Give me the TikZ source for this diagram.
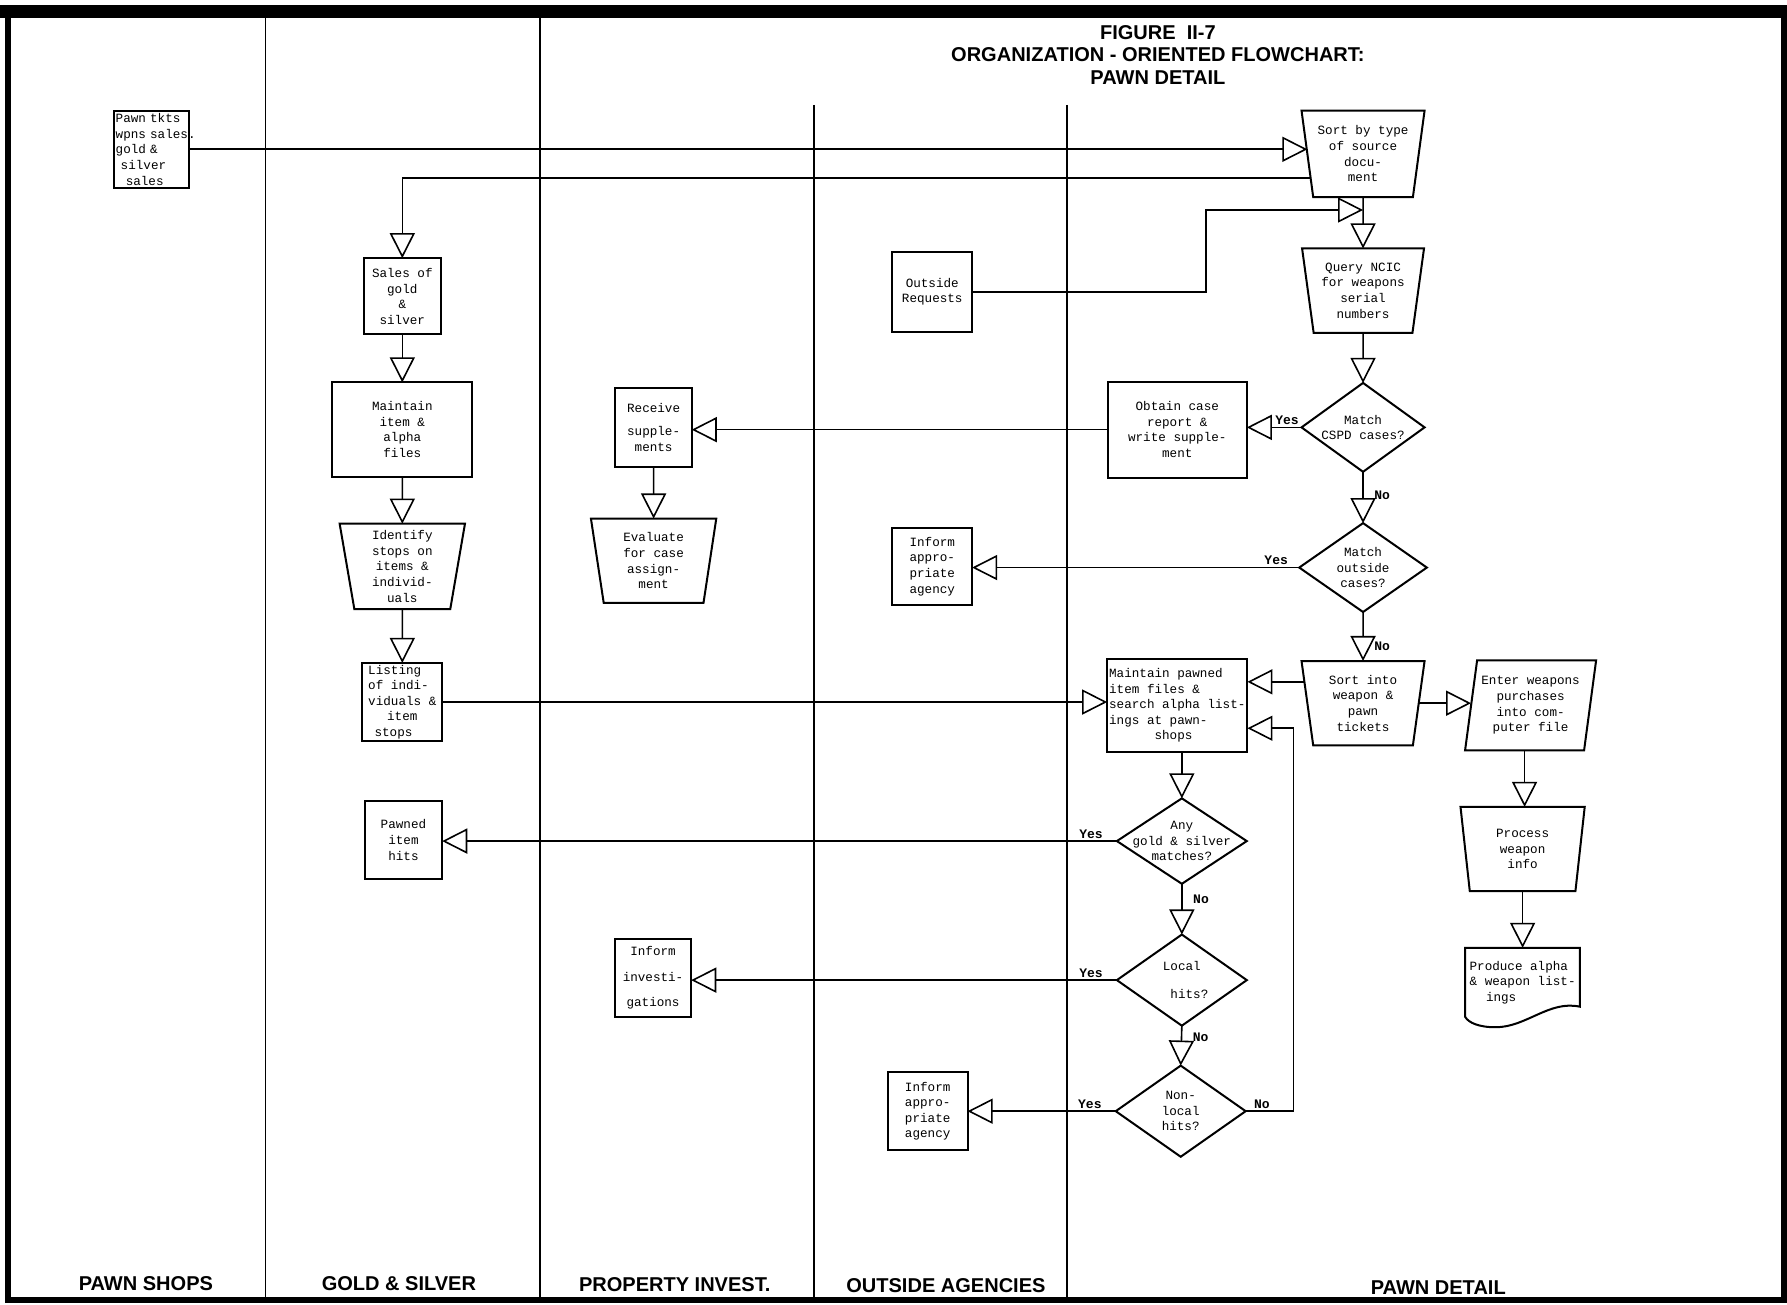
\documentclass[tikz,border=0pt]{standalone}
\usepackage{fontspec}
\usepackage{tikz}
\usetikzlibrary{arrows.meta,positioning,shapes.geometric,calc}
\newfontfamily\chartmono{Liberation Mono}
\newfontfamily\chartsans{Liberation Sans}

\begin{document}
\begin{tikzpicture}[
  x=0.02cm,y=-0.02cm,
  txt/.style={font=\chartmono\fontsize{6.3}{7.8}\selectfont,align=center},
  box/.style={txt,draw,line width=1pt,inner sep=1pt,outer sep=0pt},
  trap/.style={box,trapezium,trapezium left angle=#1,trapezium right angle=#1,trapezium stretches body},
  trap/.default=101,
  para/.style={box,trapezium,trapezium left angle=79,trapezium right angle=101,trapezium stretches body},
  dec/.style={draw,line width=1pt,diamond,inner sep=0pt,outer sep=0pt},
  yn/.style={font=\chartmono\bfseries\fontsize{6.5}{8}\selectfont,inner sep=1pt},
  arr/.style={-{Triangle[open,length=4.4mm,width=4.4mm]},line width=0.8pt},
  lane/.style={font=\chartsans\bfseries\fontsize{10}{11.2}\selectfont},
  laneline/.style={line width=0.8pt}
]
\useasboundingbox (0,0) rectangle (1568,1145);
\fill (0,4) rectangle (1568,16);
\draw[line width=3pt] (7,10) rectangle (1565,1141);
\foreach \lx/\ly in {233/10,474/10,714/92,936/92}
  \draw[laneline] (\lx,\ly) -- (\lx,1140);

\node[lane,align=center] (title) at (1016,48) {FIGURE~~II-7\\ORGANIZATION - ORIENTED FLOWCHART:\\PAWN DETAIL};
\node[lane] (labshops) at (128,1126) {PAWN SHOPS};
\node[lane] (labgold) at (350,1126) {GOLD \& SILVER};
\node[lane] (labprop) at (592,1127) {PROPERTY INVEST.};
\node[lane] (labout) at (830,1128) {OUTSIDE AGENCIES};
\node[lane] (labpawn) at (1262,1130) {PAWN DETAIL};

\node[box,text width=1.26cm,minimum height=1.36cm,align=left] (pawntkts) at (133,131)
  {Pawn tkts\\\mbox{wpns sales.}\\gold \&\\\hspace*{0.4em}silver\\\hspace*{0.8em}sales};

\node[box,minimum width=1.36cm,minimum height=1.34cm] (sales) at (353,260) {Sales of\\gold\\\&\\silver};
\node[box,minimum width=2.46cm,minimum height=1.66cm] (maintain) at (353,377) {Maintain\\item \&\\alpha\\files};
\node[trap,minimum width=2.2cm,minimum height=1.5cm] (identify) at (353,497) {Identify\\stops on\\items \&\\individ-\\uals};
\node[box,minimum width=1.4cm,minimum height=1.36cm,align=left] (listing) at (353,616)
  {Listing\\of indi-\\viduals \&\\\hspace*{1.5em}item\\\hspace*{0.5em}stops};
\node[box,minimum width=1.36cm,minimum height=1.36cm] (pawned) at (354,737) {Pawned\\item\\hits};

\node[box,minimum width=1.34cm,minimum height=1.38cm] (receive) at (573.5,375) {Receive\\[4pt]supple-\\ments};
\node[trap=102,minimum width=2.2cm,minimum height=1.48cm] (evaluate) at (573.5,492) {Evaluate\\for case\\assign-\\ment};
\node[box,minimum width=1.34cm,minimum height=1.38cm] (informinv) at (573,858) {Inform\\[5pt]investi-\\[5pt]gations};

\node[box,minimum width=1.4cm,minimum height=1.4cm] (outside) at (818,256) {Outside\\Requests};
\node[box,minimum width=1.4cm,minimum height=1.36cm] (informapp) at (818,497) {Inform\\appro-\\priate\\agency};
\node[box,minimum width=1.4cm,minimum height=1.38cm] (informnl) at (814,975) {Inform\\appro-\\priate\\agency};

\node[trap,minimum width=2.16cm,minimum height=1.52cm] (sortsrc) at (1196,135) {Sort by type\\of source\\docu-\\ment};
\node[trap,minimum width=2.14cm,minimum height=1.48cm] (query) at (1196,255) {Query NCIC\\for weapons\\serial\\numbers};
\node[dec,minimum width=2.16cm,minimum height=1.56cm,label={[txt]center:{Match\\CSPD cases?}}] (match1) at (1196,375) {};
\node[box,minimum width=2.44cm,minimum height=1.68cm] (obtain) at (1033,377) {Obtain case\\report \&\\write supple-\\ment};
\node[dec,minimum width=2.24cm,minimum height=1.56cm,label={[txt]center:{Match\\outside\\cases?}}] (match2) at (1196,498) {};
\node[trap,minimum width=2.16cm,minimum height=1.48cm] (sortwp) at (1196,617) {Sort into\\weapon \&\\pawn\\tickets};
\node[box,minimum width=2.46cm,minimum height=1.64cm,align=left] (maintainpawn) at (1033,619)
  {Maintain pawned\\item files \&\\search alpha list-\\ings at pawn-\\\hspace*{3.6em}shops};
\node[para,minimum width=2.3cm,minimum height=1.58cm] (enter) at (1343,619) {Enter weapons\\purchases\\into com-\\puter file};
\node[trap=102,minimum width=2.18cm,minimum height=1.48cm] (process) at (1336,745) {Process\\weapon\\info};
\node[txt,inner sep=1pt,minimum width=2cm,minimum height=1.2cm,align=left] (produce) at (1336,862)
  {Produce alpha\\\& weapon list-\\\hspace*{1.3em}ings};
\draw[line width=1pt] (produce.north west) -- (produce.north east) -- ($(produce.south east)+(0,-9)$)
  .. controls +(-27,-6) and +(27,0) .. ++(-74,18) .. controls +(-15,0) and +(3,5) .. (produce.south west) -- cycle;
\node[dec,minimum width=2.28cm,minimum height=1.5cm,label={[txt]center:{Any\\gold \& silver\\matches?}}] (anygold) at (1037,738) {};
\node[dec,minimum width=2.28cm,minimum height=1.6cm,label={[txt]center:{Local\\[6pt]\hspace*{1.2em}hits?}}] (local) at (1037,860) {};
\node[dec,minimum width=2.28cm,minimum height=1.6cm,label={[txt]center:{Non-\\local\\hits?}}] (nonlocal) at (1036,975) {};

\coordinate (back) at ($(sortsrc.bottom left corner)!0.22!(sortsrc.top left corner)$);
\coordinate (join) at ($(sortsrc.south)!0.25!(query.north)$);
\draw[arr] (pawntkts.east) -- (pawntkts.east -| sortsrc.west);
\draw[arr] (back) -| (sales.north);
\draw[arr] (sortsrc.south) -- (query.north);
\draw[arr] (outside.east) -- ++(205,0) |- (join);
\draw[arr] (query.south) -- (match1.north);
\draw[arr] (match1.west) -- node[yn,pos=0,anchor=south east]{Yes} (match1.west -| obtain.east);
\draw[arr] (obtain.west) -- (obtain.west -| receive.east);
\draw[arr] (receive.south) -- (evaluate.north);
\draw[arr] (match1.south) -- node[yn,pos=0.45,anchor=west,xshift=0.15cm]{No} (match2.north);
\draw[arr] (match2.west) -- node[yn,pos=0,anchor=south east,xshift=-0.15cm]{Yes} (match2.west -| informapp.east);
\draw[arr] (match2.south) -- node[yn,pos=0.7,anchor=west,xshift=0.15cm]{No} (sortwp.north);
\draw[arr] (sortwp.160) -- (sortwp.160 -| maintainpawn.east);
\draw[arr] (sortwp.east) -- (sortwp.east -| enter.west);
\draw[arr] (listing.east) -- (listing.east -| maintainpawn.west);
\draw[arr] (maintainpawn.south -| anygold.north) -- (anygold.north);
\draw[arr] (anygold.west) -- node[yn,pos=0,anchor=south east,xshift=-0.2cm]{Yes} (anygold.west -| pawned.east);
\draw[arr] (anygold.south) -- node[yn,pos=0.3,anchor=west,xshift=0.15cm]{No} (local.north);
\draw[arr] (local.west) -- node[yn,pos=0,anchor=south east,xshift=-0.2cm]{Yes} (local.west -| informinv.east);
\draw[arr] (local.south) -- node[yn,pos=0.3,anchor=west,xshift=0.15cm]{No} (nonlocal.north);
\draw[arr] (nonlocal.west) -- node[yn,pos=0,anchor=south east,xshift=-0.2cm]{Yes} (nonlocal.west -| informnl.east);
\draw[arr] (nonlocal.east) -- node[yn,pos=0,anchor=south west,xshift=0.1cm]{No} ++(42,0) |- (maintainpawn.-18);
\draw[arr] (enter.bottom side) -- (enter.bottom side |- process.north);
\draw[arr] (process.south) -- (process.south |- produce.north);
\draw[arr] (sales.south) -- (maintain.north);
\draw[arr] (maintain.south) -- (identify.north);
\draw[arr] (identify.south) -- (listing.north);
\end{tikzpicture}
\end{document}
